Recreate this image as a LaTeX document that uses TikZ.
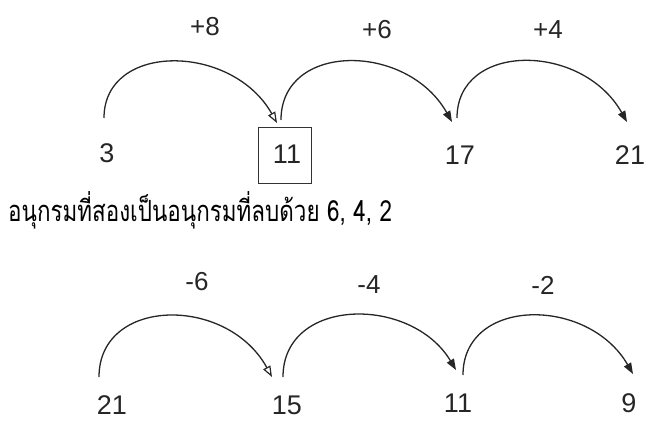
\documentclass[tikz,border=0pt]{standalone}
\usepackage{fontspec}
\setmainfont{Liberation Sans}
\newfontfamily\thaifont[Script=Thai]{Loma}
\usetikzlibrary{arrows.meta}
\tikzset{
  num/.style={font=\fontsize{27}{30}\selectfont, inner sep=0pt, text=black!85},
  lab/.style={font=\fontsize{26}{30}\selectfont, inner sep=0pt, text=black!85},
  jump/.style={line width=1.3pt, black!85, -{Triangle[length=11pt,width=8pt]}},
  jumpopen/.style={line width=1.3pt, black!85, -{Triangle[open,length=11pt,width=8pt,line width=1.2pt]}},
  boxed/.style={draw=black!80, line width=0.9pt, minimum width=53pt, minimum height=56pt}
}
\begin{document}
\begin{tikzpicture}[x=1pt,y=1pt]
\useasboundingbox (0,0) rectangle (646,421);
% top row
\node[lab] (l1) at (205,394) {+8};
\node[lab] (l2) at (377,391) {+6};
\node[lab] (l3) at (548,391) {+4};
\node[num] (a1) at (107,268) {3};
\node[boxed] (bx) at (284.5,266) {};
\node[num] (a2) at (287,267) {11};
\node[num] (a3) at (460,266) {17};
\node[num] (a4) at (630,266) {21};
\coordinate (s1) at (104,303);
\coordinate (e1) at (277,298);
\coordinate (s2) at (281,301);
\coordinate (e2) at (452,299);
\coordinate (s3) at (457,303);
\coordinate (e3) at (627,299);
\draw[jumpopen] (s1) .. controls +(0,76) and +(-45,80) .. (e1);
\draw[jump] (s2) .. controls +(0,78) and +(-45,80) .. (e2);
\draw[jump] (s3) .. controls +(0,76) and +(-45,80) .. (e3);
% Thai sentence
\node[anchor=base west, inner sep=0pt] (th) at (8,199) {\scalebox{1}[1.3]{\resizebox{384pt}{!}{\thaifont\fontsize{24}{28}\selectfont อนุกรมที่สองเป็นอนุกรมที่ลบด้วย 6, 4, 2}}};
% bottom row
\node[lab] (m1) at (197,139) {-6};
\node[lab] (m2) at (369,136) {-4};
\node[lab] (m3) at (543,136) {-2};
\node[num] (b1) at (112,16) {21};
\node[num] (b2) at (287,16) {15};
\node[num] (b3) at (458,18) {11};
\node[num] (b4) at (629,18) {9};
\coordinate (t1) at (99,44);
\coordinate (f1) at (272,44);
\coordinate (t2) at (283,44);
\coordinate (f2) at (456,51);
\coordinate (t3) at (463,46);
\coordinate (f3) at (633,47);
\draw[jumpopen] (t1) .. controls +(0,80) and +(-45,82) .. (f1);
\draw[jump] (t2) .. controls +(0,80) and +(-45,75) .. (f2);
\draw[jump] (t3) .. controls +(0,78) and +(-45,78) .. (f3);
\end{tikzpicture}
\end{document}
